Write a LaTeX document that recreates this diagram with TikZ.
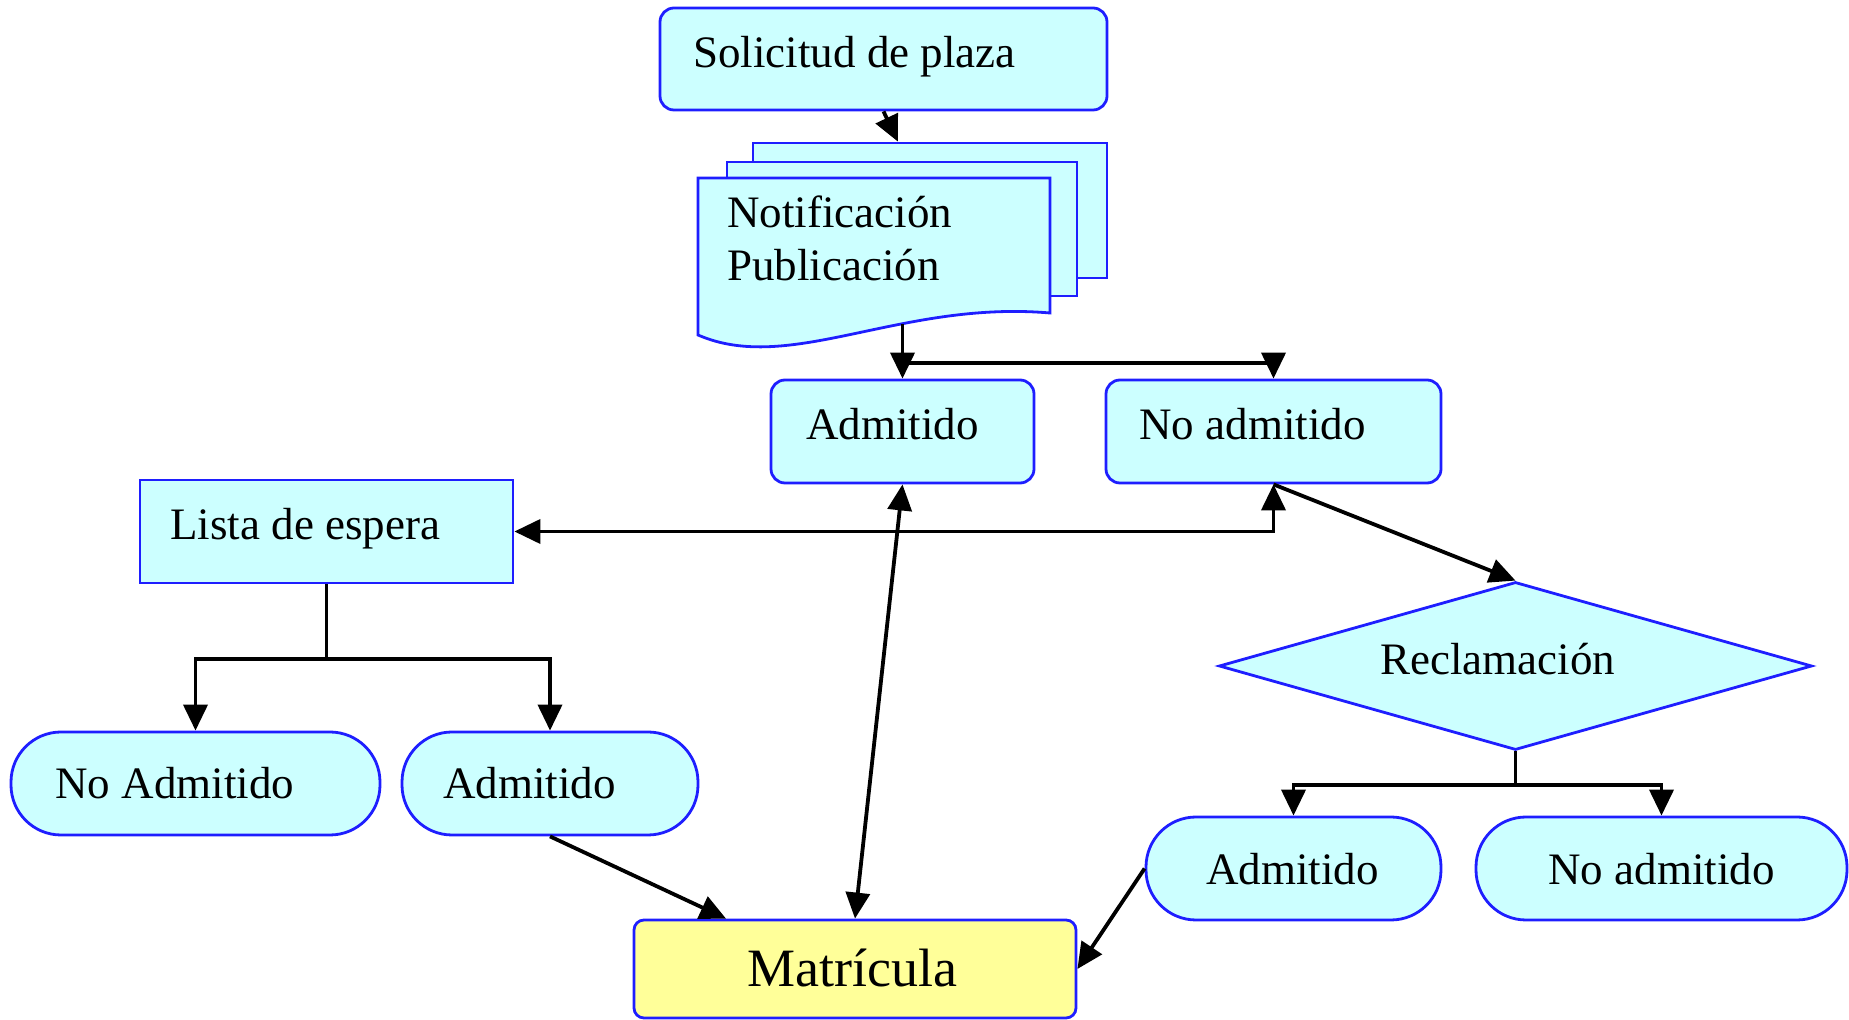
\documentclass[tikz,border=0pt]{standalone}
\usepackage{fontspec}
\setmainfont{Liberation Serif}
\usetikzlibrary{arrows.meta,shapes.geometric,calc}
\definecolor{boxfill}{RGB}{204,255,255}
\definecolor{boxline}{RGB}{30,30,255}
\definecolor{matfill}{RGB}{255,255,153}
\tikzset{
  shapebox/.style={draw=boxline, fill=boxfill, line width=1.4pt, inner sep=0pt, rectangle},
  rbox/.style={shapebox, rounded corners=7pt},
  stad/.style={shapebox, rounded corners=25pt},
  txt/.style={anchor=base west, inner sep=0pt, font=\fontsize{22.5}{27}\selectfont},
  conn/.style={line width=1.9pt, black},
  arr/.style={conn, -{Triangle[length=13pt,width=12pt]}},
  arrtwo/.style={conn, {Triangle[length=13pt,width=12pt]}-{Triangle[length=13pt,width=12pt]}},
}
\begin{document}
\begin{tikzpicture}[x=0.5pt, y=-0.5pt]
\useasboundingbox (0,0) rectangle (1849,1020);

% shapes
\node[rbox, minimum width=223.5pt, minimum height=51pt] (sol) at (883.5,59) {};
\node[shapebox, minimum width=177pt, minimum height=67.5pt] (back) at (930,210.5) {};
\node[shapebox, minimum width=175pt, minimum height=67pt] (mid) at (902,229) {};
\draw[draw=boxline, fill=boxfill, line width=1.4pt]
  (698,178) -- (1050,178) -- (1050,313) .. controls (900,300) and (790,375) .. (698,335) -- cycle;
\coordinate (docb) at (902.5,324);
\node[rbox, minimum width=131.5pt, minimum height=51.5pt] (adm) at (902.5,431.5) {};
\node[rbox, minimum width=167.5pt, minimum height=51.5pt] (noadm) at (1273.5,431.5) {};
\node[shapebox, minimum width=186.5pt, minimum height=51.5pt] (lista) at (326.5,531.5) {};
\node[stad, minimum width=184.5pt, minimum height=51.5pt] (noA) at (195.5,783.5) {};
\node[stad, minimum width=148pt, minimum height=51.5pt] (admL) at (550,783.5) {};
\node[shapebox, diamond, minimum width=296.5pt, minimum height=84pt] (rec) at (1515.5,666) {};
\node[stad, minimum width=147.5pt, minimum height=51.5pt] (admR) at (1293.5,868.5) {};
\node[stad, minimum width=185.5pt, minimum height=51.5pt] (noR) at (1661.5,868.5) {};
\node[shapebox, fill=matfill, rounded corners=5pt, minimum width=221pt, minimum height=49pt] (mat) at (855,969) {};

% texts
\node[txt] (solT) at (693,68) {Solicitud de plaza};
\node[txt] (notT) at (727,228) {Notificación};
\node[txt] (pubT) at (727,281) {Publicación};
\node[txt] (admT) at (806,440) {Admitido};
\node[txt] (noadmT) at (1139,440) {No admitido};
\node[txt] (listaT) at (170,540) {Lista de espera};
\node[txt] (noAT) at (55,799) {No Admitido};
\node[txt] (admLT) at (443,799) {Admitido};
\node[txt] (recT) at (1380,675) {Reclamación};
\node[txt] (admRT) at (1206,885) {Admitido};
\node[txt] (noRT) at (1548,885) {No admitido};
\node[txt, font=\fontsize{27}{32}\selectfont] (matT) at (747,987) {Matrícula};

% connectors
\draw[arr] (sol.south) -- ($(back.north west)!0.41!(back.north east)$);
\draw[arr] (docb) -- (adm.north);
\coordinate (split) at (902.5,363);
\draw[arr] (split) -| (noadm.north);
\draw[arrtwo] (noadm.south) |- (lista.east);
\draw[arr] (noadm.south) -- (rec.north);
\draw[arrtwo] (adm.south) -- (mat.north);
\draw[conn] (lista.south) -- ++(0,75) coordinate (lsplit);
\draw[arr] (lsplit) -| (noA.north);
\draw[arr] (lsplit) -| (admL.north);
\draw[arr] (admL.south) -- ($(mat.north west)!0.21!(mat.north east)$);
\coordinate (rsplit) at ($(rec.south)+(0,34)$);
\draw[conn] (rec.south) -- (rsplit);
\draw[arr] (rsplit) -| (admR.north);
\draw[arr] (rsplit) -| (noR.north);
\draw[arr] (admR.west) -- (mat.east);
\end{tikzpicture}
\end{document}
